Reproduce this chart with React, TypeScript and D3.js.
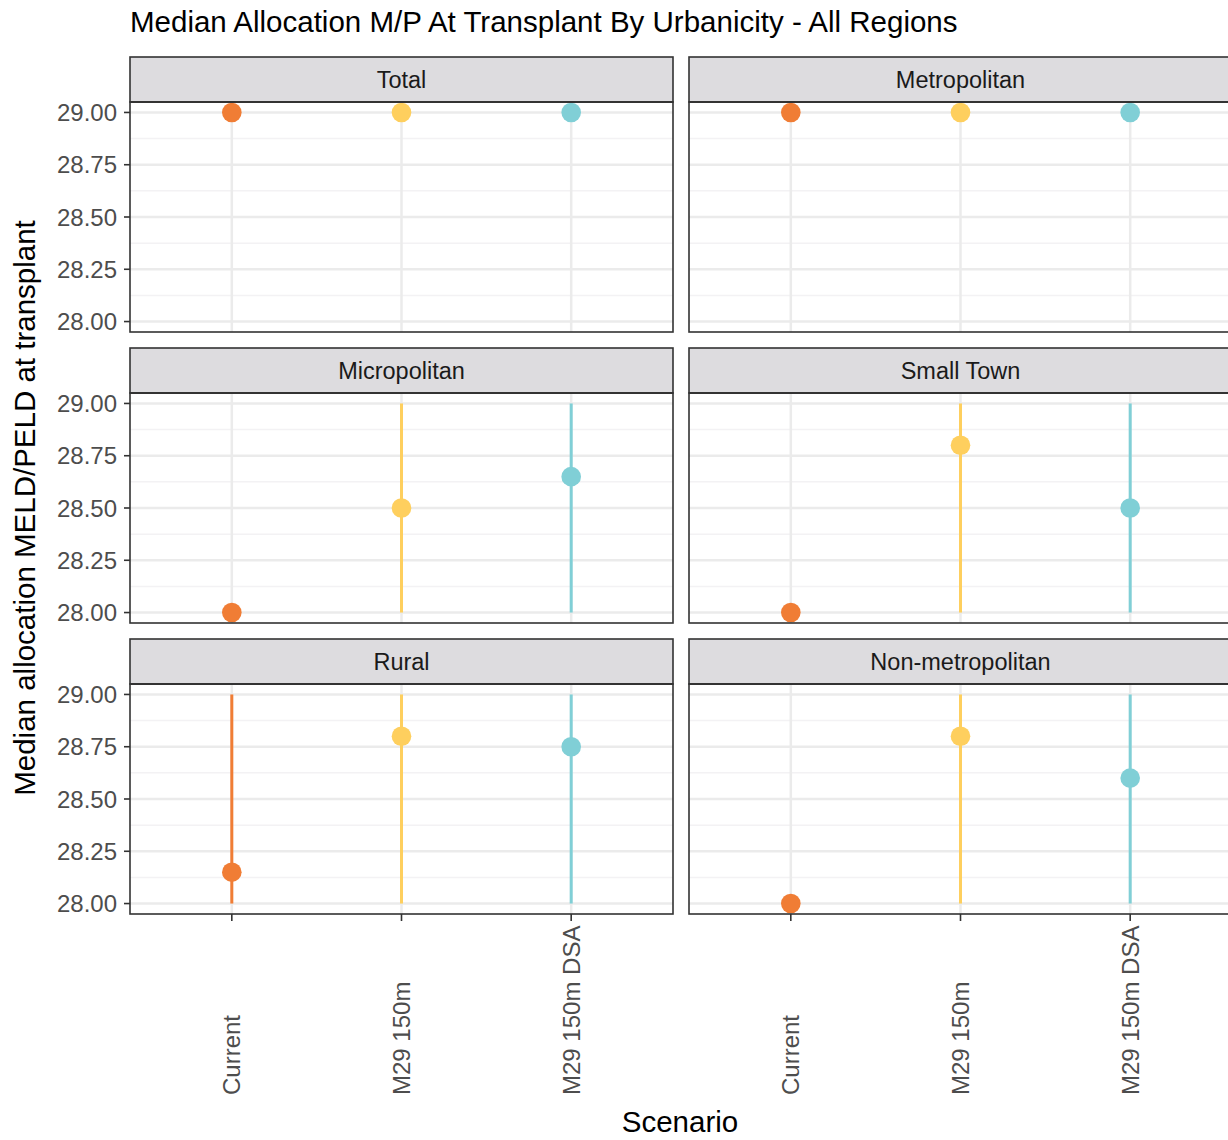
import React from "react";
import * as d3 from "d3";

const title = "Median Allocation M/P At Transplant By Urbanicity - All Regions";
const xTitle = "Scenario";
const yTitle = "Median allocation MELD/PELD at transplant";
const scenarios = ["Current", "M29 150m", "M29 150m DSA"];
const facets = ["Total", "Metropolitan", "Micropolitan", "Small Town", "Rural", "Non-metropolitan"];
const medianValues = [
  [29, 29, 29],
  [29, 29, 29],
  [28, 28.5, 28.65],
  [28, 28.8, 28.5],
  [28.15, 28.8, 28.75],
  [28, 28.8, 28.6],
];
const lowValues = [
  [29, 29, 29],
  [29, 29, 29],
  [28, 28, 28],
  [28, 28, 28],
  [28, 28, 28],
  [28, 28, 28],
];
const highValues = [
  [29, 29, 29],
  [29, 29, 29],
  [28, 29, 29],
  [28, 29, 29],
  [29, 29, 29],
  [28, 29, 29],
];
const yTicks = [28, 28.25, 28.5, 28.75, 29];
const yMinor = [28.125, 28.375, 28.625, 28.875];
const colors = ["#F07D35", "#FECF5E", "#80CFD6"];

const W = 1228;
const H = 1140;
const colLeft = [130, 689];
const panelW = 543;
const rowTop = [57, 348, 639];
const stripH = 45;
const panelH = 230;
const font = "'Liberation Sans', Arial, Helvetica, sans-serif";

export default function App() {
  const x = d3.scalePoint<string>().domain(scenarios).range([0, panelW]).padding(0.6);
  const y = d3.scaleLinear().domain([27.95, 29.05]).range([panelH, 0]);
  const gridColor = "#EBEBEB";
  return (
    <svg width={W} height={H} style={{ position: "absolute", left: 0, top: 0, background: "#fff" }} fontFamily={font}>
      <text x={130} y={32} fontSize={29.5} fill="#000">{title}</text>
      {facets.map((f, i) => {
        const col = i % 2;
        const row = Math.floor(i / 2);
        const px = colLeft[col];
        const sy = rowTop[row];
        const py = sy + stripH;
        return (
          <g key={f}>
            <g transform={`translate(${px},${py})`}>
              <rect x={0} y={0} width={panelW} height={panelH} fill="#fff" />
              {yMinor.map((t) => (
                <line key={"m" + t} x1={0} x2={panelW} y1={y(t)} y2={y(t)} stroke="#F3F2F4" strokeWidth={1.5} />
              ))}
              {yTicks.map((t) => (
                <line key={"g" + t} x1={0} x2={panelW} y1={y(t)} y2={y(t)} stroke={gridColor} strokeWidth={2.5} />
              ))}
              {scenarios.map((s) => (
                <line key={"v" + s} x1={x(s)} x2={x(s)} y1={0} y2={panelH} stroke={gridColor} strokeWidth={2.5} />
              ))}
              {scenarios.map((s, j) => (
                <line
                  key={"r" + s}
                  x1={x(s)}
                  x2={x(s)}
                  y1={y(lowValues[i][j])}
                  y2={y(highValues[i][j])}
                  stroke={colors[j]}
                  strokeWidth={3}
                />
              ))}
              {scenarios.map((s, j) => (
                <circle key={"p" + s} cx={x(s)} cy={y(medianValues[i][j])} r={9.8} fill={colors[j]} />
              ))}
              <rect x={0} y={0} width={panelW} height={panelH} fill="none" stroke="#333" strokeWidth={1.6} />
              {col === 0 &&
                yTicks.map((t) => (
                  <g key={"yt" + t}>
                    <line x1={-6} x2={0} y1={y(t)} y2={y(t)} stroke="#333" strokeWidth={1.6} />
                    <text x={-13} y={y(t)} dy="0.36em" textAnchor="end" fontSize={24} fill="#4D4D4D">
                      {t.toFixed(2)}
                    </text>
                  </g>
                ))}
              {row === 2 &&
                scenarios.map((s) => (
                  <g key={"xt" + s}>
                    <line x1={x(s)} x2={x(s)} y1={panelH} y2={panelH + 7} stroke="#333" strokeWidth={1.6} />
                    <text
                      transform={`translate(${x(s)},${1095 - py}) rotate(-90)`}
                      dy="0.36em"
                      textAnchor="start"
                      fontSize={24}
                      fill="#4D4D4D"
                    >
                      {s}
                    </text>
                  </g>
                ))}
            </g>
            <rect x={px} y={sy} width={panelW} height={stripH} fill="#DDDCDF" stroke="#333" strokeWidth={1.6} />
            <line x1={px} x2={px + panelW} y1={py} y2={py} stroke="#333" strokeWidth={2} />
            <text x={px + panelW / 2} y={sy + stripH / 2} dy="0.36em" textAnchor="middle" fontSize={23.5} fill="#1A1A1A">
              {f}
            </text>
          </g>
        );
      })}
      <text x={680} y={1132} textAnchor="middle" fontSize={29.5} fill="#000">{xTitle}</text>
      <text transform={`translate(35,508) rotate(-90)`} textAnchor="middle" fontSize={29.5} fill="#000">{yTitle}</text>
    </svg>
  );
}
